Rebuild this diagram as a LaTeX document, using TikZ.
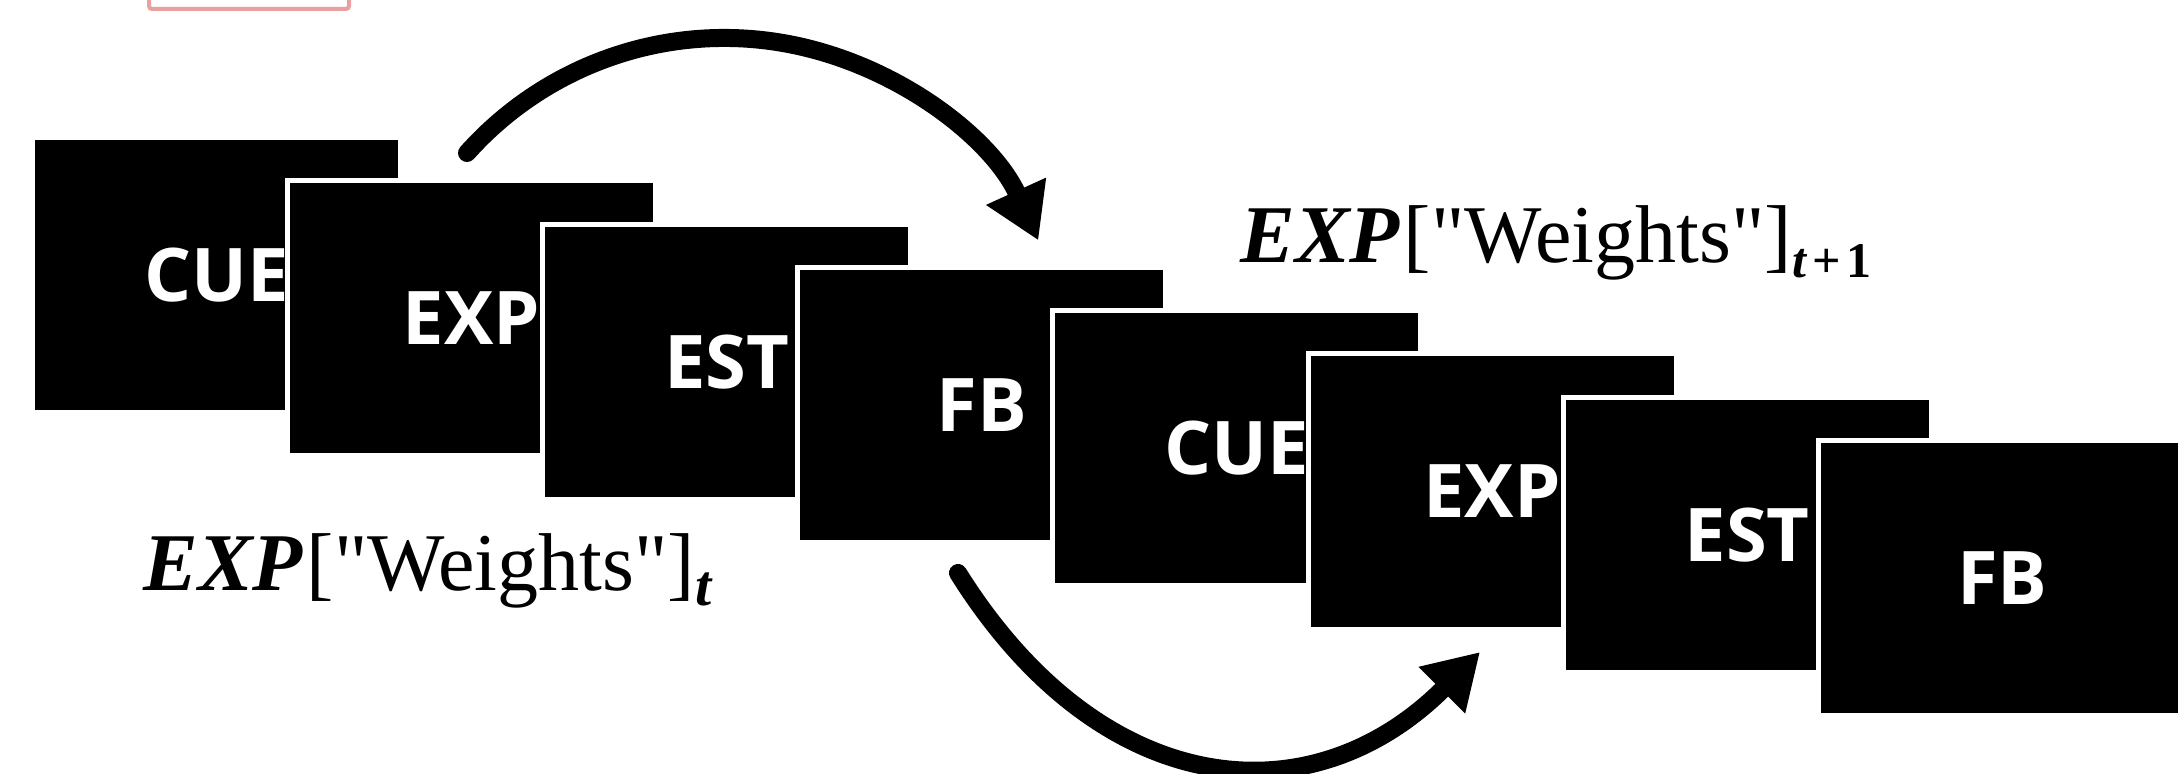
\documentclass[tikz,border=0pt]{standalone}
\usepackage{fontspec}
\setmainfont{Liberation Serif}[Ligatures=TeXOff]
\newfontfamily\boxfont{Open Sans}
\usetikzlibrary{arrows.meta}

% lowered bold subscript: #1 = size, #2 = content
\newcommand\wsub[2]{\raisebox{-7.5pt}{\fontsize{#1}{#1}\selectfont\bfseries #2}}

\definecolor{edgepink}{RGB}{232,160,160}

\begin{document}
\begin{tikzpicture}[x=0.5pt, y=-0.5pt,
  frame/.style={rectangle, fill=black, draw=white, line width=2.5pt,
    minimum width=184pt, minimum height=137.5pt, inner sep=0pt,
    text=white, font=\boxfont\bfseries\fontsize{37}{37}\selectfont},
  wlabel/.style={inner sep=0pt, anchor=base west,
    font=\fontsize{41}{41}\selectfont},
  flow/.style={draw=black, line width=9pt, line cap=round,
    -{Triangle[length=27pt,width=31pt]}},
  pinkedge/.style={draw=edgepink, line width=2pt, rounded corners=1.5pt}
]
\useasboundingbox (0,0) rectangle (2178,774);
\clip (0,0) rectangle (2178,774);
\fill[white] (0,0) rectangle (2178,774);

% small framed box at the top edge
\draw[pinkedge] (149,-20) rectangle (349,9);

% first trial
\node[frame] (cue1) at (216.5,275.0) {CUE};
\node[frame] (exp1) at (471.6,318.3) {EXP};
\node[frame] (est1) at (726.7,361.6) {EST};
\node[frame] (fb1)  at (981.8,404.9) {FB};
% second trial
\node[frame] (cue2) at (1236.9,448.2) {CUE};
\node[frame] (exp2) at (1492.0,491.5) {EXP};
\node[frame] (est2) at (1747.1,534.8) {EST};
\node[frame] (fb2)  at (2002.2,578.1) {FB};

% weight labels
\node[wlabel] (wt) at (143,590)
  {{\bfseries\itshape EXP}\kern2pt["Weights"]\wsub{29pt}{\itshape t}};
\node[wlabel] (wt1) at (1240,263)
  {{\bfseries\itshape EXP}\kern2pt["Weights"]\wsub{25pt}{{\itshape t}\kern3pt+\kern3pt1}};

% update arrows
\coordinate (up start) at (467,153);
\coordinate (low start) at (958,573);
\coordinate (low end) at (1480,652);
\draw[flow] (up start) arc[start angle=-138.2, end angle=-24.4, radius=345];
\draw[flow] (low start) .. controls (1100,800) and (1310,822) .. (low end);
\end{tikzpicture}
\end{document}
